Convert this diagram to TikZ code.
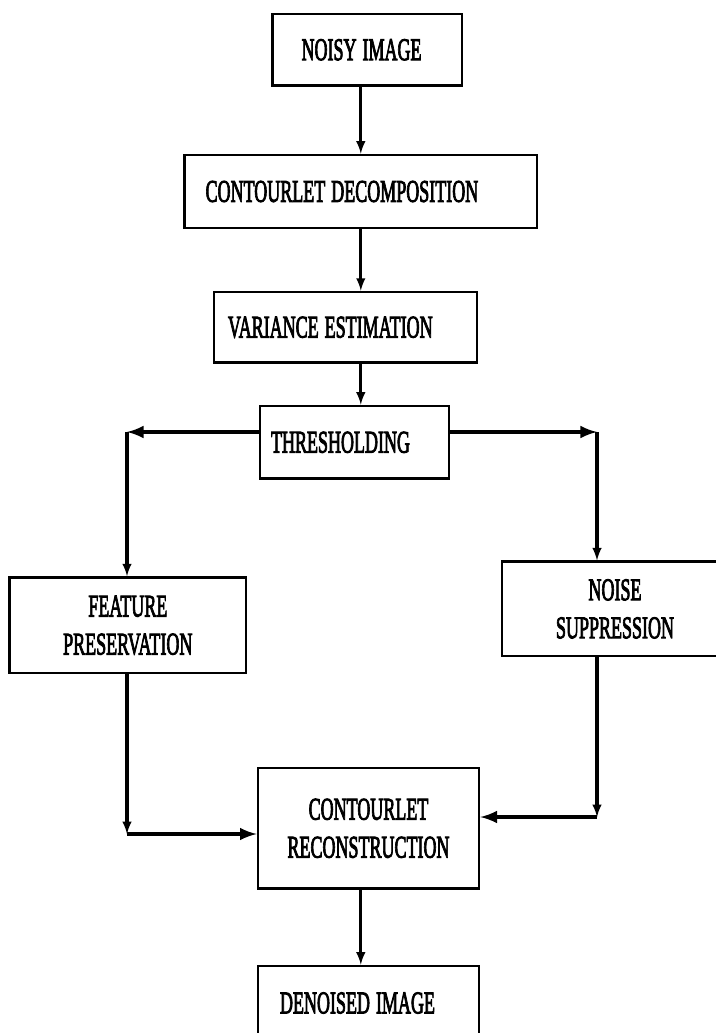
\documentclass[tikz,border=0pt]{standalone}
\usepackage{fontspec}
\setmainfont{Liberation Serif}
\newfontfamily\heavyserif{Liberation Serif}[FakeBold=3.5]
\usepackage{graphicx}
\newcommand{\tallcaps}[1]{\scalebox{1}[1.75]{#1}}

\begin{document}
\begin{tikzpicture}[x=1pt,y=-1pt,
  box/.style={draw, line width=2.8pt, inner ysep=0pt, font=\heavyserif\fontsize{18}{38}\selectfont},
  varrow/.style={line width=3.2pt, -latex},
  harrow/.style={line width=4.6pt, -latex}]
   \useasboundingbox (0,0) rectangle (715,1033);

   \node[box, minimum width=189.5pt, minimum height=71.6pt, text width=131.5pt, inner xsep=29pt] (noisy) at (367.3,49.8) {\tallcaps{NOISY IMAGE}};
   \node[box, minimum width=352.4pt, minimum height=73pt, text width=310.4pt, inner xsep=21pt] (cd) at (360.8,191.5) {\tallcaps{CONTOURLET DECOMPOSITION}};
   \node[box, minimum width=263pt, minimum height=70.5pt, text width=235pt, inner xsep=14pt] (ve) at (345.5,327.3) {\tallcaps{VARIANCE ESTIMATION}};
   \node[box, minimum width=189pt, minimum height=72.6pt, text width=167pt, inner xsep=11pt] (th) at (354.5,442.3) {\tallcaps{THRESHOLDING}};

   \node[box, minimum width=236.5pt, minimum height=95.5pt, align=center] (feat) at (127.8,625.3) {\tallcaps{FEATURE}\\\tallcaps{PRESERVATION}};
   \node[box, minimum width=226pt, minimum height=94.3pt, align=center] (noise) at (615,608.9) {\tallcaps{NOISE}\\\tallcaps{SUPPRESSION}};

   \node[box, minimum width=221pt, minimum height=120.5pt, align=center] (recon) at (368.5,828.3) {\tallcaps{CONTOURLET}\\\tallcaps{RECONSTRUCTION}};
   \node[box, minimum width=221pt, minimum height=74pt, text width=177pt, inner xsep=22pt] (den) at (368.5,1003) {\tallcaps{DENOISED IMAGE}};

   % corners of the side branches
   \coordinate (cl) at (127,432);
   \coordinate (cr) at (597,432);
   \coordinate (bl) at (127,834);
   \coordinate (br) at (597,817);

   \draw[varrow] (noisy.south -| cd.north) -- (cd.north);
   \draw[varrow] (cd.south) -- (cd.south |- ve.north);
   \draw[varrow] (ve.south -| cd.south) -- (th.north -| cd.south);

   \draw[harrow] (th.west |- cl) -- (cl);
   \draw[varrow] (cl) -- (cl |- feat.north);
   \draw[harrow] (th.east |- cr) -- (cr);
   \draw[varrow] (cr) -- (cr |- noise.north);

   \draw[varrow] (feat.south -| bl) -- (bl);
   \draw[harrow] (bl) -- (bl -| recon.west);
   \draw[varrow] (noise.south -| br) -- (br);
   \draw[harrow] (br) -- (br -| recon.east);

   \draw[varrow] (recon.south -| cd.south) -- (den.north -| cd.south);
\end{tikzpicture}
\end{document}
